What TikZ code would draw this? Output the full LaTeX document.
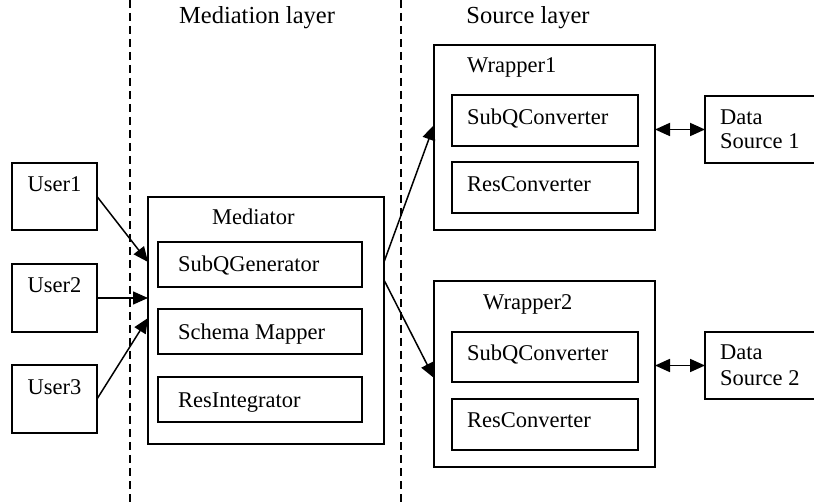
\documentclass[tikz,border=0pt]{standalone}
\usepackage{fontspec}
\setmainfont{Liberation Serif}
\usetikzlibrary{arrows.meta}
\begin{document}
\begin{tikzpicture}[x=1pt,y=-1pt,
  frame/.style={draw=black, line width=1.4pt, inner sep=0pt, outer sep=0pt},
  lbl/.style={inner sep=0pt, anchor=base west, font=\fontsize{22.5}{27}\selectfont},
  layerlbl/.style={inner sep=0pt, anchor=base, font=\fontsize{24.5}{29}\selectfont},
  conn/.style={line width=1.5pt, -{Triangle[length=15pt,width=13pt]}},
  biconn/.style={line width=1.8pt, {Triangle[length=15pt,width=13pt]}-{Triangle[length=15pt,width=13pt]}},
  divider/.style={line width=1.5pt, dash pattern=on 8pt off 5pt}]

% canvas
\clip (0,0) rectangle (814,502);

% layer dividers and headings
\draw[divider] (130,0) -- (130,502);
\draw[divider] (401,0) -- (401,502);
\node[layerlbl] (medlayer) at (257,24) {Mediation layer};
\node[layerlbl] (srclayer) at (528,24) {Source layer};

% users
\node[frame, minimum width=85pt, minimum height=67pt] (user1) at (54.5,196.5) {};
\node[frame, minimum width=85pt, minimum height=68pt] (user2) at (54.5,298) {};
\node[frame, minimum width=85pt, minimum height=68pt] (user3) at (54.5,399) {};
\node[lbl, anchor=base] (user1txt) at (54.5,192) {User1};
\node[lbl, anchor=base] (user2txt) at (54.5,293) {User2};
\node[lbl, anchor=base] (user3txt) at (54.5,395) {User3};

% mediator
\node[frame, minimum width=236pt, minimum height=247pt] (mediator) at (266,320.5) {};
\node[lbl] (medtxt) at (212,225) {Mediator};
\node[frame, minimum width=204pt, minimum height=45pt] (subqgen) at (260,264.5) {};
\node[frame, minimum width=204pt, minimum height=45pt] (schema) at (260,331.5) {};
\node[frame, minimum width=204pt, minimum height=45pt] (resint) at (260,399.5) {};
\node[lbl] (subqgentxt) at (178,272) {SubQGenerator};
\node[lbl] (schematxt) at (178,340) {Schema Mapper};
\node[lbl] (resinttxt) at (178,408) {ResIntegrator};

% wrapper 1
\node[frame, minimum width=221pt, minimum height=185pt] (wrapper1) at (544.5,137.5) {};
\node[lbl] (w1txt) at (467,73) {Wrapper1};
\node[frame, minimum width=186pt, minimum height=51pt] (w1subq) at (545,120.5) {};
\node[frame, minimum width=186pt, minimum height=51pt] (w1res) at (545,187.5) {};
\node[lbl] (w1subqtxt) at (467,125) {SubQConverter};
\node[lbl] (w1restxt) at (467,192) {ResConverter};

% wrapper 2
\node[frame, minimum width=221pt, minimum height=186pt] (wrapper2) at (544.5,374) {};
\node[lbl] (w2txt) at (483,310) {Wrapper2};
\node[frame, minimum width=186pt, minimum height=50pt] (w2subq) at (545,357) {};
\node[frame, minimum width=186pt, minimum height=51pt] (w2res) at (545,424.5) {};
\node[lbl] (w2subqtxt) at (467,361) {SubQConverter};
\node[lbl] (w2restxt) at (467,428) {ResConverter};

% data sources (running off the right edge)
\node[frame, minimum width=120pt, minimum height=67pt] (ds1) at (765,129.5) {};
\node[frame, minimum width=120pt, minimum height=67pt] (ds2) at (765,365.5) {};
\node[lbl] (ds1a) at (720,125) {Data};
\node[lbl] (ds1b) at (720,149) {Source 1};
\node[lbl] (ds2a) at (720,360) {Data};
\node[lbl] (ds2b) at (720,386) {Source 2};

% connectors
\coordinate (u1in) at (148,262);
\coordinate (u3in) at (148,318);
\coordinate (mout1) at (384,262);
\coordinate (mout2) at (384,280);
\coordinate (w1in) at (434,125);
\coordinate (w2in) at (434,378);
\draw[conn] (user1.east) -- (u1in);
\draw[conn] (user2.east) -- (user2.east -| mediator.west);
\draw[conn] (user3.east) -- (u3in);
\draw[conn] (mout1) -- (w1in);
\draw[conn] (mout2) -- (w2in);
\draw[biconn] (ds1.west -| wrapper1.east) -- (ds1.west);
\draw[biconn] (ds2.west -| wrapper2.east) -- (ds2.west);
\end{tikzpicture}
\end{document}
